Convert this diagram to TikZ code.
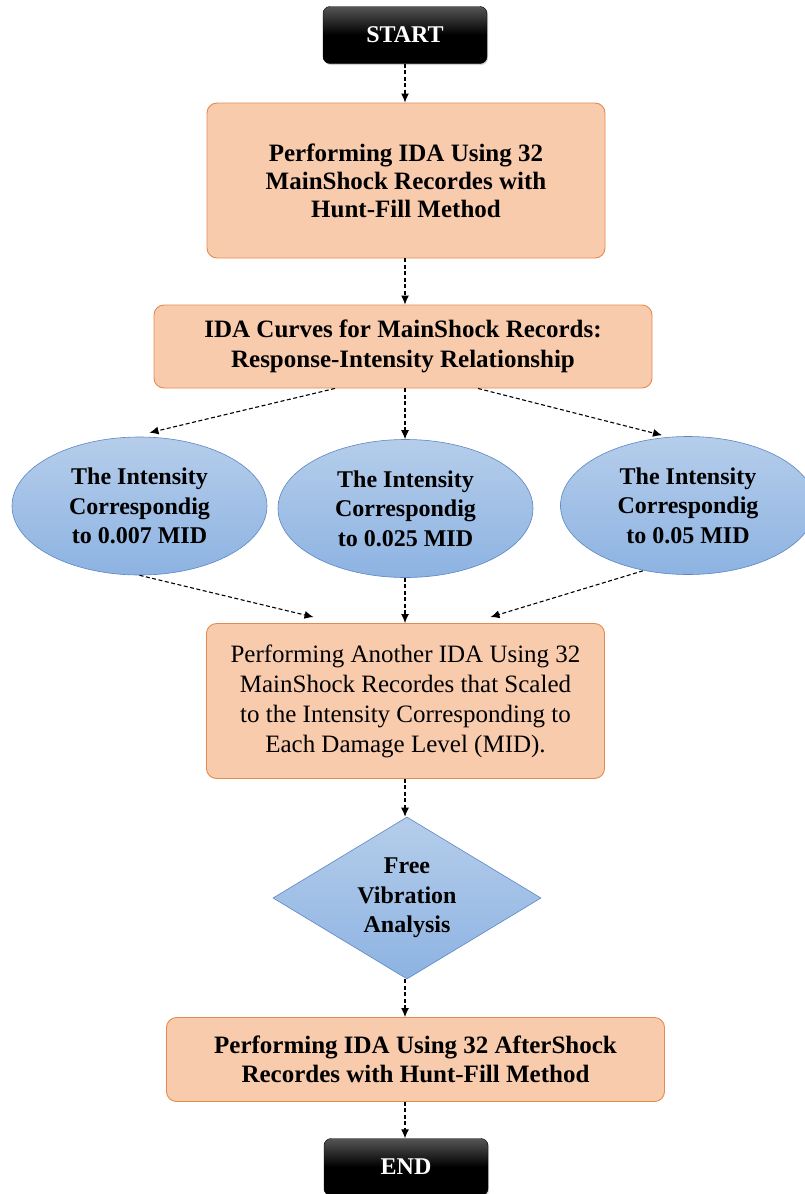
\documentclass[tikz,border=0pt]{standalone}
\usepackage{fontspec}
\setmainfont{Liberation Serif}
\usetikzlibrary{arrows.meta,shapes.geometric,calc,shadows}
\definecolor{peachfill}{HTML}{F8CBAD}
\definecolor{orangeline}{HTML}{E58A4F}
\definecolor{bluetop}{HTML}{B5CDEA}
\definecolor{bluebot}{HTML}{8DB3E2}
\definecolor{blueline}{HTML}{5B86C5}
\definecolor{termtop}{HTML}{555555}
\begin{document}
\begin{tikzpicture}[x=1pt,y=-1pt,
 flow/.style={-{Latex[length=9pt,width=8pt]}, dash pattern=on 4pt off 2.5pt, line width=1.1pt},
 peach/.style={draw=orangeline, fill=peachfill, rounded corners=10pt, line width=0.9pt, align=center, inner sep=0pt},
 boldtxt/.style={font=\bfseries\fontsize{25}{29}\selectfont},
 term/.style={rounded corners=7pt, top color=termtop, bottom color=black, middle color=black, draw=black,
   text=white, font=\bfseries\fontsize{24}{28}\selectfont, minimum width=164pt, minimum height=57pt,
   drop shadow={opacity=0.35, shadow xshift=1pt, shadow yshift=-1.5pt}},
 bluefill/.style={draw=blueline, top color=bluetop, bottom color=bluebot, line width=0.6pt, align=center,
   font=\bfseries\fontsize{24}{29.5}\selectfont, inner sep=0pt},
 oval/.style={bluefill, ellipse, minimum width=255pt, minimum height=138pt}
]
\useasboundingbox (0,0) rectangle (805,1194);

\node[term] (start) at (405,35) {START};
\node[peach, minimum width=398pt, minimum height=155pt, font=\bfseries\fontsize{25}{28}\selectfont] (b1) at (406,180.5)
  {Performing IDA Using 32\\MainShock Recordes with\\Hunt-Fill Method};
\node[peach, minimum width=498pt, minimum height=83pt, font=\bfseries\fontsize{25}{30}\selectfont] (b2) at (403,346.5)
  {IDA Curves for MainShock Records:\\Response-Intensity Relationship};

\node[oval] (e1) at (139.5,506) {The Intensity\\Correspondig\\to 0.007 MID};
\node[oval] (e2) at (405.5,508.5) {The Intensity\\Correspondig\\to 0.025 MID};
\node[oval] (e3) at (688,505.5) {The Intensity\\Correspondig\\to 0.05 MID};

\node[peach, minimum width=398pt, minimum height=155pt, font=\fontsize{25}{30}\selectfont] (b3) at (405.5,701)
  {Performing Another IDA Using 32\\MainShock Recordes that Scaled\\to the Intensity Corresponding to\\Each Damage Level (MID).};

\node[bluefill, diamond, aspect=1.65, minimum width=268pt, minimum height=162pt] (d) at (407,898)
  {Free\\Vibration\\Analysis};

\node[peach, boldtxt, minimum width=498pt, minimum height=84pt] (b4) at (415.5,1059.5)
  {Performing IDA Using 32 AfterShock\\Recordes with Hunt-Fill Method};

\node[term] (end) at (406,1167) {END};

% connectors
\draw[flow] (start.south) -- (start.south |- b1.north);
\draw[flow] (b1.south -| start.south) -- (start.south |- b2.north);
\draw[flow] ($(b2.south)+(-68,0)$) -- ($(e1.north)+(10,-4)$);
\draw[flow] (b2.south -| start.south) -- (start.south |- e2.north);
\draw[flow] ($(b2.south)+(75,0)$) -- ($(e3.north)+(-26,-1)$);
\draw[flow] (e1.south) -- ($(b3.north)+(-92,-6)$);
\draw[flow] (e2.south -| start.south) -- (start.south |- b3.north);
\draw[flow] ($(e3.south)+(-45,-4)$) -- ($(b3.north)+(85,-6)$);
\draw[flow] (b3.south -| start.south) -- (start.south |- d.north);
\draw[flow] (d.south -| start.south) -- (start.south |- b4.north);
\draw[flow] (b4.south -| start.south) -- (start.south |- end.north);
\end{tikzpicture}
\end{document}
